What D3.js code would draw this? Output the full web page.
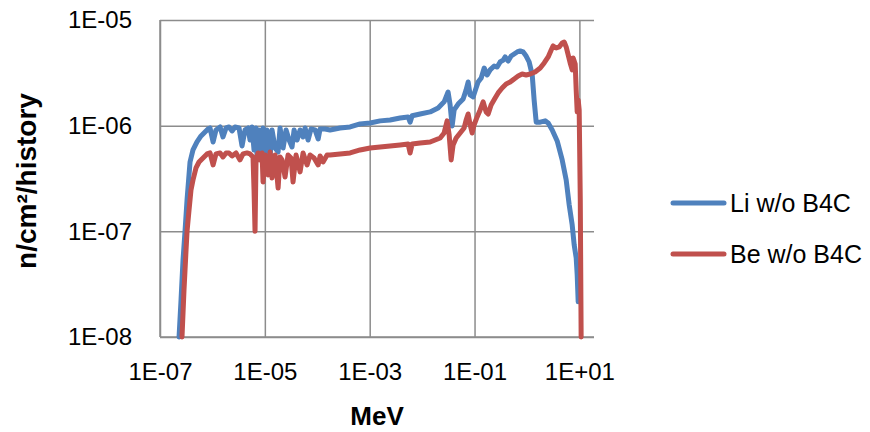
<!DOCTYPE html>
<meta charset="utf-8">
<style>
body { margin: 0; background: #fff; }
.tick text { font: 24px "Liberation Sans", Arial, sans-serif; fill: #000; }
.grid line { stroke: #8c8c8c; stroke-width: 1.5px; }
.grid .domain { display: none; }
.line { fill: none; stroke-width: 5px; stroke-linejoin: round; stroke-linecap: round; }
.title { font-family: "Liberation Sans", Arial, sans-serif; font-weight: bold; }
.legend text { font: 25px "Liberation Sans", Arial, sans-serif; }
</style>
<body>
<script src="https://d3js.org/d3.v7.min.js"></script>
<script>

// energy (MeV) and flux (n/cm2/history)
var liEnergy = [2.31e-7, 2.52e-7, 2.75e-7, 3.00e-7, 3.28e-7, 3.74e-7, 4.26e-7, 5.08e-7, 6.06e-7, 7.22e-7,
  8.24e-7, 9.00e-7, 1.03e-6, 1.17e-6, 1.40e-6, 1.59e-6, 1.82e-6, 2.07e-6, 2.37e-6, 2.70e-6,
  3.22e-6, 3.67e-6, 4.19e-6, 4.78e-6, 5.22e-6, 5.70e-6, 6.22e-6, 6.79e-6, 7.10e-6, 7.75e-6,
  8.46e-6, 9.24e-6, 1.01e-5, 1.10e-5, 1.26e-5, 1.37e-5, 1.57e-5, 1.79e-5, 1.95e-5, 2.23e-5,
  2.54e-5, 2.90e-5, 3.30e-5, 3.61e-5, 4.12e-5, 4.70e-5, 5.36e-5, 5.85e-5, 6.67e-5, 7.61e-5,
  9.08e-5, 1.04e-4, 1.13e-4, 1.41e-4, 1.75e-4, 2.19e-4, 2.72e-4, 4.23e-4, 6.56e-4, 1.02e-3,
  1.58e-3, 2.45e-3, 3.80e-3, 5.41e-3, 5.90e-3, 6.45e-3, 9.16e-3, 1.42e-2, 2.02e-2, 2.63e-2,
  3.13e-2, 3.42e-2, 3.74e-2, 4.08e-2, 4.86e-2, 6.06e-2, 6.91e-2, 7.55e-2, 8.24e-2, 9.40e-2,
  0.107, 0.117, 0.134, 0.153, 0.174, 0.198, 0.237, 0.270, 0.308, 0.352,
  0.384, 0.438, 0.499, 0.570, 0.650, 0.742, 0.846, 0.965, 1.10, 1.26,
  1.37, 1.50, 1.79, 2.23, 2.54, 3.03, 3.77, 4.70, 5.60, 6.39,
  7.29, 7.96, 8.69, 9.08, 9.49];
var liFlux = [1.0e-8, 2.24e-8, 5.36e-8, 1.0e-7, 1.98e-7, 4.53e-7, 5.89e-7, 7.01e-7, 7.99e-7, 8.72e-7,
  9.31e-7, 9.51e-7, 7.01e-7, 9.11e-7, 9.72e-7, 7.82e-7, 9.51e-7, 9.72e-7, 8.91e-7, 9.72e-7,
  9.51e-7, 6.43e-7, 9.11e-7, 9.51e-7, 7.32e-7, 9.72e-7, 5.89e-7, 9.51e-7, 5.06e-7, 9.11e-7,
  5.89e-7, 9.51e-7, 5.17e-7, 9.11e-7, 5.06e-7, 9.11e-7, 6.15e-7, 5.64e-7, 9.51e-7, 6.15e-7,
  9.11e-7, 7.32e-7, 6.29e-7, 9.11e-7, 7.32e-7, 9.11e-7, 7.82e-7, 9.51e-7, 7.32e-7, 9.31e-7,
  9.11e-7, 7.48e-7, 9.31e-7, 9.31e-7, 9.11e-7, 9.31e-7, 9.51e-7, 9.72e-7, 1.04e-6, 1.06e-6,
  1.11e-6, 1.13e-6, 1.18e-6, 1.21e-6, 1.08e-6, 1.24e-6, 1.29e-6, 1.35e-6, 1.47e-6, 1.68e-6,
  2.08e-6, 1.57e-6, 9.94e-7, 1.41e-6, 1.60e-6, 1.79e-6, 2.18e-6, 2.59e-6, 1.95e-6, 1.87e-6,
  2.27e-6, 2.59e-6, 2.83e-6, 3.51e-6, 3.02e-6, 3.37e-6, 3.67e-6, 3.59e-6, 4.01e-6, 4.18e-6,
  4.47e-6, 4.09e-6, 4.56e-6, 4.77e-6, 4.98e-6, 5.09e-6, 4.98e-6, 4.56e-6, 4.01e-6, 3.02e-6,
  1.75e-6, 1.08e-6, 1.08e-6, 1.11e-6, 1.06e-6, 9.11e-7, 7.17e-7, 4.74e-7, 3.06e-7, 1.78e-7,
  1.15e-7, 7.43e-8, 5.6e-8, 3.87e-8, 2.15e-8];

var beEnergy = [2.63e-7, 2.87e-7, 3.14e-7, 3.28e-7, 3.58e-7, 3.90e-7, 4.26e-7, 4.86e-7, 5.55e-7, 6.62e-7,
  7.89e-7, 9.00e-7, 1.03e-6, 1.17e-6, 1.40e-6, 1.59e-6, 1.82e-6, 2.07e-6, 2.37e-6, 2.82e-6,
  3.36e-6, 3.84e-6, 4.57e-6, 5.22e-6, 5.95e-6, 6.22e-6, 6.50e-6, 6.79e-6, 7.42e-6, 8.10e-6,
  8.84e-6, 9.24e-6, 1.01e-5, 1.15e-5, 1.26e-5, 1.37e-5, 1.57e-5, 1.79e-5, 1.95e-5, 2.13e-5,
  2.43e-5, 2.77e-5, 3.16e-5, 3.45e-5, 3.94e-5, 4.70e-5, 5.36e-5, 6.39e-5, 7.29e-5, 8.69e-5,
  1.04e-4, 1.13e-4, 1.29e-4, 1.54e-4, 1.75e-4, 2.72e-4, 4.23e-4, 6.56e-4, 1.02e-3, 1.58e-3,
  2.45e-3, 3.80e-3, 5.41e-3, 5.90e-3, 6.45e-3, 9.16e-3, 1.42e-2, 2.21e-2, 2.63e-2, 3.00e-2,
  3.28e-2, 3.58e-2, 3.90e-2, 4.46e-2, 5.31e-2, 6.33e-2, 6.91e-2, 7.55e-2, 8.24e-2, 9.00e-2,
  9.83e-2, 0.112, 0.128, 0.146, 0.166, 0.182, 0.207, 0.247, 0.282, 0.336,
  0.401, 0.478, 0.570, 0.679, 0.810, 0.965, 1.15, 1.43, 1.79, 2.13,
  2.54, 2.90, 3.16, 3.61, 4.12, 4.70, 5.13, 5.60, 6.11, 6.67,
  7.29, 7.61, 8.32, 8.69, 9.08, 9.49, 9.91, 10.4, 10.8];
var beFlux = [1.0e-8, 2.79e-8, 6.67e-8, 1.0e-7, 1.59e-7, 2.46e-7, 3.06e-7, 3.98e-7, 4.53e-7, 4.95e-7,
  5.40e-7, 5.52e-7, 4.25e-7, 5.40e-7, 5.52e-7, 5.06e-7, 5.52e-7, 5.52e-7, 5.17e-7, 5.52e-7,
  4.74e-7, 5.40e-7, 5.52e-7, 5.40e-7, 5.06e-7, 2.46e-7, 1.0e-7, 4.74e-7, 5.52e-7, 4.74e-7,
  5.52e-7, 2.93e-7, 5.28e-7, 3.42e-7, 5.64e-7, 3.20e-7, 5.28e-7, 2.57e-7, 5.06e-7, 4.74e-7,
  3.27e-7, 5.28e-7, 4.95e-7, 2.93e-7, 5.28e-7, 3.65e-7, 5.52e-7, 4.25e-7, 5.28e-7, 4.95e-7,
  4.25e-7, 5.17e-7, 4.53e-7, 5.28e-7, 5.28e-7, 5.40e-7, 5.52e-7, 5.89e-7, 6.15e-7, 6.29e-7,
  6.43e-7, 6.57e-7, 6.71e-7, 5.52e-7, 6.71e-7, 6.86e-7, 7.01e-7, 7.65e-7, 8.53e-7, 1.11e-6,
  8.17e-7, 4.74e-7, 6.57e-7, 7.65e-7, 8.53e-7, 9.51e-7, 1.13e-6, 1.29e-6, 1.02e-6, 8.53e-7,
  1.02e-6, 1.21e-6, 1.41e-6, 1.68e-6, 1.35e-6, 1.29e-6, 1.57e-6, 1.83e-6, 2.04e-6, 2.27e-6,
  2.48e-6, 2.59e-6, 2.77e-6, 2.95e-6, 3.08e-6, 3.02e-6, 3.08e-6, 3.22e-6, 3.51e-6, 3.92e-6,
  4.47e-6, 5.20e-6, 5.68e-6, 5.43e-6, 5.56e-6, 6.06e-6, 6.19e-6, 5.56e-6, 4.67e-6, 3.92e-6,
  3.37e-6, 4.37e-6, 3.83e-6, 2.18e-6, 1.35e-6, 1.75e-6, 1.41e-6, 1.98e-7, 1.0e-8];

var seriesNames = ["Li w/o B4C", "Be w/o B4C"];
var seriesColors = ["#4f81bd", "#c0504d"];
var xTicks = [1e-7, 1e-5, 1e-3, 1e-1, 1e1];
var yTicks = [1e-8, 1e-7, 1e-6, 1e-5];

var margin = {top: 20, right: 276, bottom: 95, left: 160},
    width = 870 - margin.left - margin.right,
    height = 432 - margin.top - margin.bottom;

var svg = d3.select("body").append("svg")
    .attr("width", 870)
    .attr("height", 432);

var g = svg.append("g")
    .attr("transform", "translate(" + margin.left + "," + margin.top + ")");

var x = d3.scaleLog().domain([1e-7, 19]).range([0, width]);
var y = d3.scaleLog().domain([1e-8, 1e-5]).range([height, 0]);

// excel style 1E-07 labels
function sci(d) {
  var e = Math.round(Math.log10(d));
  var s = e < 0 ? "-" : "+";
  var a = Math.abs(e);
  return "1E" + s + (a < 10 ? "0" + a : a);
}

// grid + axes
g.append("g")
    .attr("class", "grid")
    .attr("transform", "translate(0," + height + ")")
    .call(d3.axisBottom(x).tickValues(xTicks).tickSize(-height).tickFormat(sci).tickPadding(26))
    .selectAll("text").attr("dy", "0.71em");

g.append("g")
    .attr("class", "grid")
    .call(d3.axisLeft(y).tickValues(yTicks).tickSize(-width).tickFormat(sci).tickPadding(28));

// left and bottom axis lines
g.append("line").attr("x1", 0).attr("x2", 0).attr("y1", 0).attr("y2", height)
    .attr("stroke", "#8c8c8c").attr("stroke-width", 1.5);
g.append("line").attr("x1", 0).attr("x2", width).attr("y1", height).attr("y2", height)
    .attr("stroke", "#8c8c8c").attr("stroke-width", 1.5);

var line = d3.line()
    .x(function(d) { return x(d[0]); })
    .y(function(d) { return y(d[1]); });

var series = [d3.zip(liEnergy, liFlux), d3.zip(beEnergy, beFlux)];

series.forEach(function(s, i) {
  g.append("path")
      .datum(s)
      .attr("class", "line")
      .style("stroke", seriesColors[i])
      .attr("d", line);
});

// axis titles
svg.append("text")
    .attr("class", "title")
    .style("font-size", "26px")
    .attr("x", margin.left + width / 2)
    .attr("y", 425)
    .attr("text-anchor", "middle")
    .text("MeV");

svg.append("text")
    .attr("class", "title")
    .style("font-size", "28px")
    .attr("transform", "translate(36,181) rotate(-90)")
    .attr("text-anchor", "middle")
    .text("n/cm\u00b2/history");

// legend
var legend = svg.append("g").attr("class", "legend");
seriesNames.forEach(function(name, i) {
  var ly = 203 + i * 51;
  legend.append("line")
      .attr("x1", 673).attr("x2", 724)
      .attr("y1", ly).attr("y2", ly)
      .attr("stroke", seriesColors[i])
      .attr("stroke-width", 5)
      .attr("stroke-linecap", "round");
  legend.append("text")
      .attr("x", 730).attr("y", ly)
      .attr("dy", "0.35em")
      .text(name);
});

</script>
</body>
